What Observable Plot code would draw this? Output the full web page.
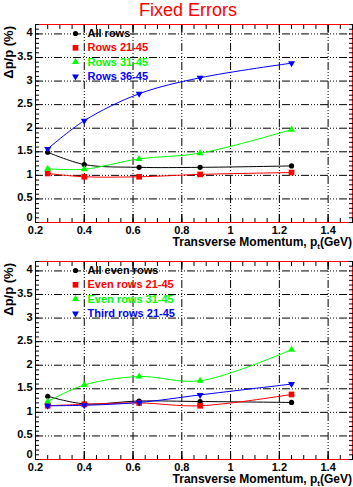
<!DOCTYPE html>
<html><head><meta charset="utf-8">
<script src="https://cdn.jsdelivr.net/npm/d3@7"></script>
<script src="https://cdn.jsdelivr.net/npm/@observablehq/plot@0.6"></script>
<style>
body{margin:0;background:#fff;width:353px;height:487px;overflow:hidden;}
svg{display:block;}
</style></head>
<body>
<div id="chart"></div>
<script>
// ---- data ----
const title = "Fixed Errors";
const xVals = [0.25, 0.4, 0.625, 0.875, 1.25];
const xTicks = [0.2, 0.4, 0.6, 0.8, 1, 1.2, 1.4];
const yTicks = [0, 0.5, 1, 1.5, 2, 2.5, 3, 3.5, 4];
const xAxisLabel = ["Transverse Momentum, p", "t", "(GeV)"];
const yAxisLabel = "Δp/p (%)";

const topNames = ["All rows", "Rows 21-45", "Rows 31-45", "Rows 36-45"];
const topAll    = [1.49, 1.23, 1.17, 1.17, 1.20];
const top2145   = [1.04, 0.97, 0.97, 1.02, 1.06];
const top3145   = [1.14, 1.13, 1.35, 1.47, 1.97];
const top3645   = [1.56, 2.16, 2.73, 3.07, 3.38];

const botNames = ["All even rows", "Even rows 21-45", "Even rows 31-45", "Third rows 21-45"];
const botAllEven  = [1.34, 1.18, 1.24, 1.23, 1.21];
const botEven2145 = [1.14, 1.17, 1.20, 1.14, 1.38];
const botEven3145 = [1.23, 1.58, 1.76, 1.67, 2.33];
const botThird2145= [1.14, 1.15, 1.21, 1.37, 1.60];

const colors = ["#000000", "#ff0000", "#00ff00", "#0000ff"];

// ---- symbols ----
const triDown = {draw(ctx, size) {
  const s = Math.sqrt(size / (Math.sqrt(3) / 4));
  const h = s * Math.sqrt(3) / 2;
  ctx.moveTo(-s/2, -h/3); ctx.lineTo(s/2, -h/3); ctx.lineTo(0, 2*h/3); ctx.closePath();
}};
const symbols = ["circle", "square", "triangle", triDown];
const radii = [2.6, 3.2, 2.6, 2.6];

const xMinor = d3.range(0.2, 1.5001, 0.05).map(d => +d.toFixed(2));
const yMinor = d3.range(0, 4.2001, 0.1).map(d => +d.toFixed(2));
const dash = "8,2,1,2,1,2,1,2";
const font = "'Liberation Sans', Arial, sans-serif";

function panel(names, series, height, marginTop, withTitle) {
  const marginBottom = 28;
  const data = series.flatMap((vals, k) => xVals.map((x, i) => ({x, y: vals[i], k})));
  const marks = [
    Plot.gridX(xTicks, {stroke: "black", strokeOpacity: 1, strokeDasharray: dash}),
    Plot.gridY(yTicks, {stroke: "black", strokeOpacity: 1, strokeDasharray: dash}),
    Plot.frame({stroke: "red"}),
    Plot.axisX({anchor: "bottom", ticks: xMinor, tickSize: -4, tickFormat: () => "", label: null, stroke: "black"}),
    Plot.axisX({anchor: "top", ticks: xMinor, tickSize: -4, tickFormat: () => "", label: null, stroke: "black"}),
    Plot.axisX({anchor: "bottom", ticks: xTicks, tickSize: -8, tickFormat: () => "", label: null, stroke: "black"}),
    Plot.axisX({anchor: "top", ticks: xTicks, tickSize: -8, tickFormat: () => "", label: null, stroke: "black"}),
    Plot.axisY({anchor: "left", ticks: yMinor, tickSize: -4, tickFormat: () => "", label: null, stroke: "black"}),
    Plot.axisY({anchor: "right", ticks: yMinor, tickSize: -4, tickFormat: () => "", label: null, stroke: "black"}),
    Plot.axisX({anchor: "bottom", ticks: xTicks, tickSize: 0, tickPadding: 4, tickFormat: d => String(d), label: null, fontWeight: "bold"}),
    Plot.axisY({anchor: "left", ticks: yTicks.filter(d => d !== 0), tickSize: 0, tickPadding: 3, tickFormat: d => String(d), label: null, fontWeight: "bold", dy: -1}),
    Plot.axisY({anchor: "left", ticks: yTicks.filter(d => d === 0), tickSize: 0, tickPadding: 3, tickFormat: d => String(d), label: null, fontWeight: "bold", dy: -5}),
    Plot.ruleX([0.2], {stroke: "black"}),
  ];
  series.forEach((vals, k) => {
    marks.push(Plot.line(data.filter(d => d.k === k), {x: "x", y: "y", stroke: colors[k], strokeWidth: 1, curve: "catmull-rom"}));
  });
  series.forEach((vals, k) => {
    marks.push(Plot.dot(data.filter(d => d.k === k), {x: "x", y: "y", fill: colors[k], stroke: null, symbol: () => symbols[k], r: radii[k]}));
  });
  names.forEach((name, k) => {
    marks.push(Plot.dot([name], {frameAnchor: "top-left", dx: 40, dy: 9 + k * 14.3, fill: colors[k], stroke: null, symbol: () => symbols[k], r: radii[k]}));
    marks.push(Plot.text([name], {frameAnchor: "top-left", dx: 52, dy: 9 + k * 14.3, text: d => d, fill: colors[k], textAnchor: "start", lineAnchor: "middle", fontWeight: "bold", fontSize: 11}));
  });
  const p = Plot.plot({
    width: 353, height, marginTop, marginBottom, marginLeft: 35, marginRight: 1,
    x: {domain: [0.2, 1.5]}, y: {domain: [0, 4.2]},
    style: {fontFamily: font, fontSize: "11px", background: "white", color: "black"},
    marks
  });
  const svg = d3.select(p);
  const fb = height - marginBottom;
  const t = svg.append("text").attr("x", 352).attr("y", fb + 24).attr("text-anchor", "end")
    .attr("font-size", 12).attr("font-weight", "bold").attr("fill", "black").attr("font-family", font);
  t.append("tspan").text(xAxisLabel[0]);
  t.append("tspan").attr("font-size", 8).attr("dy", 3).text(xAxisLabel[1]);
  t.append("tspan").attr("dy", -3).text(xAxisLabel[2]);
  svg.append("text").attr("transform", `translate(13,${marginTop + 2}) rotate(-90)`)
    .attr("text-anchor", "end").attr("font-size", 13).attr("font-weight", "bold").attr("fill", "black")
    .attr("font-family", font).text(yAxisLabel);
  if (withTitle) {
    svg.append("text").attr("x", 188).attr("y", 16).attr("text-anchor", "middle").attr("fill", "#ff0000")
      .attr("font-size", 18).attr("font-family", font).text(title);
  }
  return p;
}

const root = document.getElementById("chart");
root.appendChild(panel(topNames, [topAll, top2145, top3145, top3645], 250, 24, true));
root.appendChild(panel(botNames, [botAllEven, botEven2145, botEven3145, botThird2145], 237, 11, false));
</script>
</body></html>
